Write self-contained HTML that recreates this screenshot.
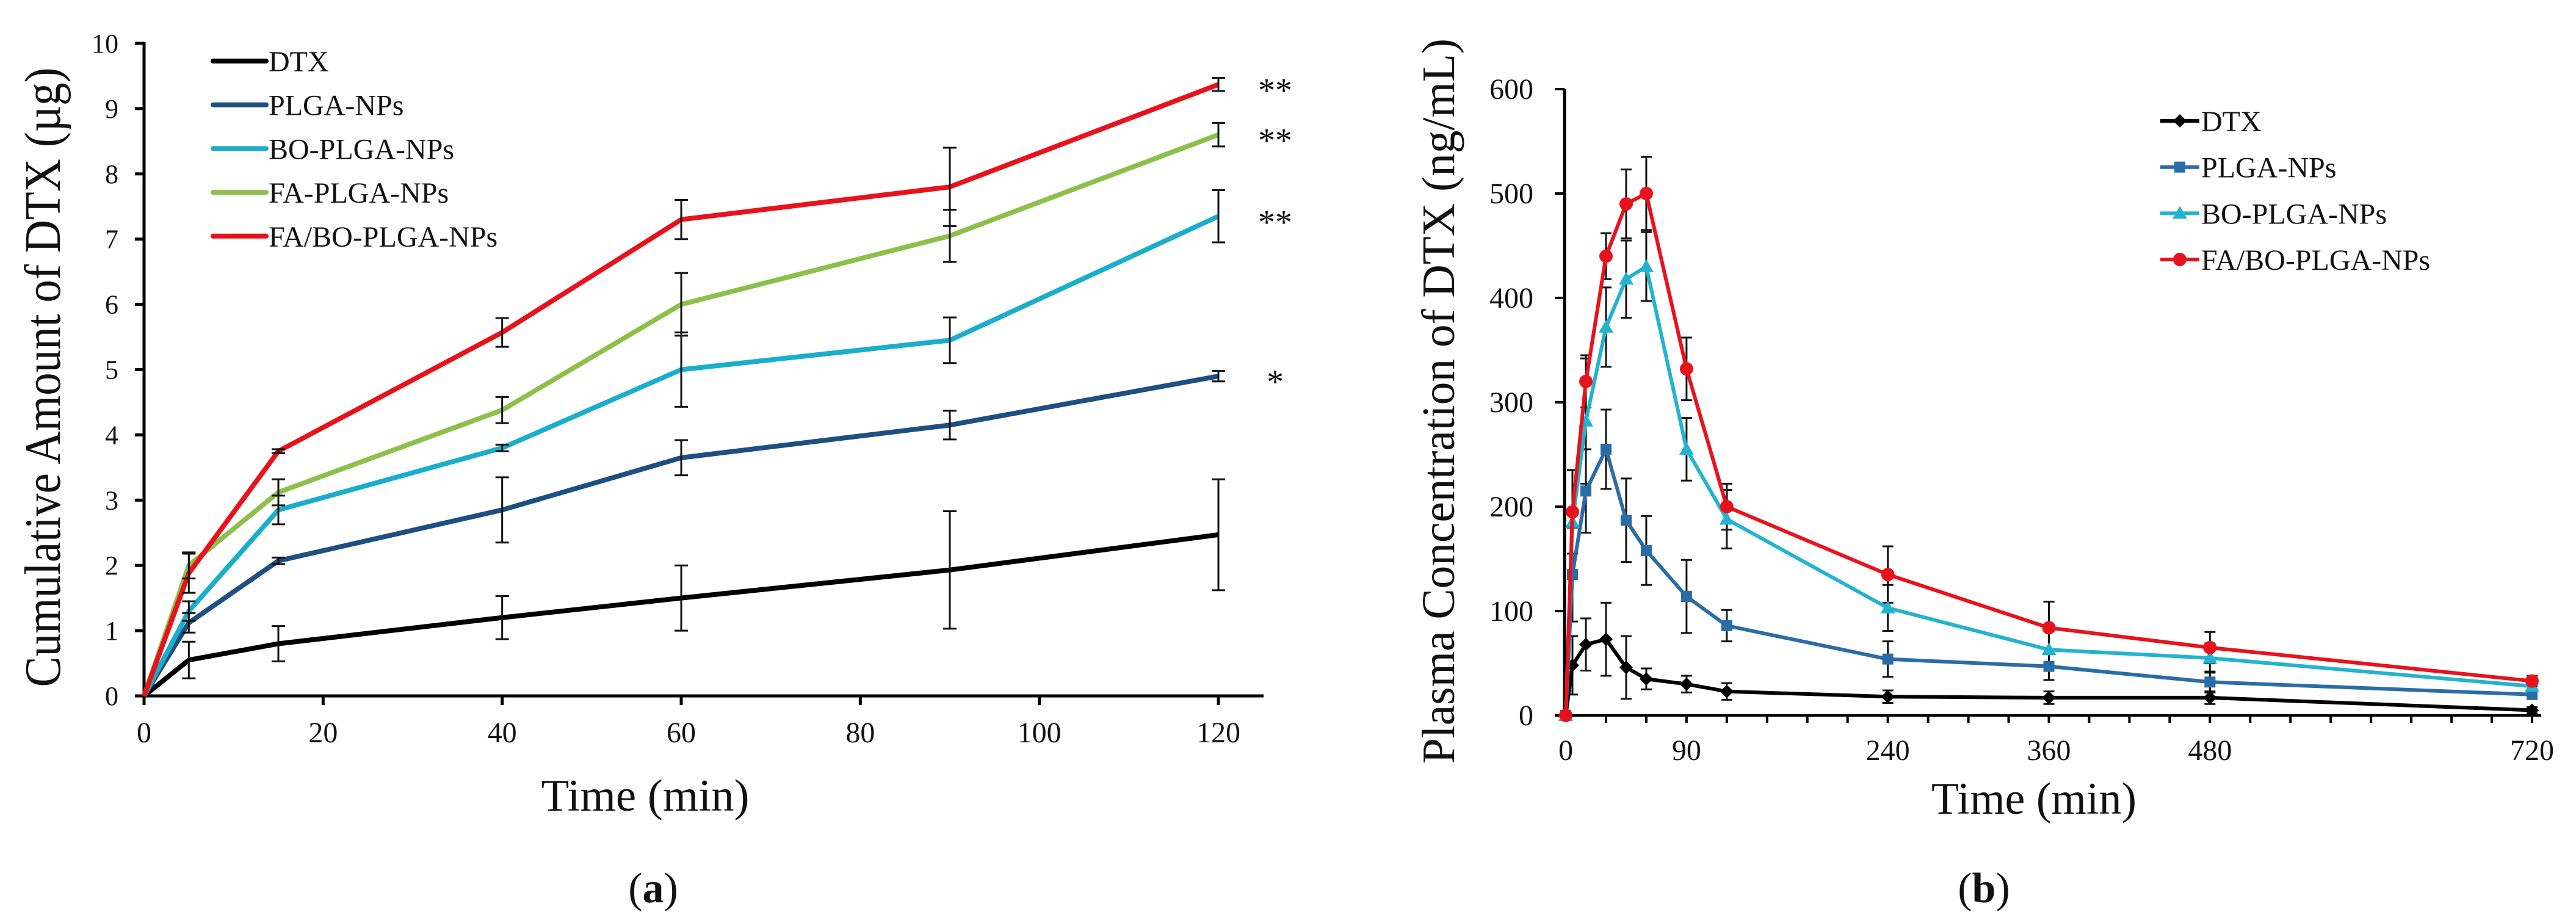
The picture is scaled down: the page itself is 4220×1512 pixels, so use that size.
<!DOCTYPE html>
<html><head><meta charset="utf-8"><style>
html,body{margin:0;padding:0;background:#fff;}
svg{display:block;}
text{font-family:"Liberation Serif",serif;fill:#111;}
</style></head><body>
<svg id="fig" width="4220" height="1512" viewBox="0 0 4220 1512" xmlns="http://www.w3.org/2000/svg">
<g id="chartA"></g>
<g id="chartB"></g>
</svg>
<script>
// ---------- Chart A data ----------
const aTimes = [0, 5, 15, 40, 60, 90, 120];
const aXTicks = [0, 20, 40, 60, 80, 100, 120];
const aYTicks = [0, 1, 2, 3, 4, 5, 6, 7, 8, 9, 10];
const aNames = ["DTX", "PLGA-NPs", "BO-PLGA-NPs", "FA-PLGA-NPs", "FA/BO-PLGA-NPs"];
const aDTX = [0, 0.55, 0.8, 1.2, 1.5, 1.93, 2.47];
const aDTXErr = [0, 0.28, 0.27, 0.33, 0.5, 0.9, 0.85];
const aPLGA = [0, 1.12, 2.07, 2.85, 3.65, 4.15, 4.9];
const aPLGAErr = [0, 0.15, 0.05, 0.5, 0.27, 0.22, 0.08];
const aBO = [0, 1.3, 2.85, 3.8, 5.0, 5.45, 7.35];
const aBOErr = [0, 0.15, 0.22, 0.05, 0.57, 0.35, 0.4];
const aFA = [0, 2.0, 3.12, 4.38, 6.0, 7.05, 8.6];
const aFAErr = [0, 0.2, 0.2, 0.2, 0.48, 0.4, 0.18];
const aFABO = [0, 1.88, 3.75, 5.57, 7.3, 7.8, 9.37];
const aFABOErr = [0, 0.3, 0.03, 0.22, 0.3, 0.6, 0.1];
const aStars = ["**", "**", "**", "*"];
const aStarVals = [9.37, 8.6, 7.35, 4.9];
// ---------- Chart B data ----------
const bTimes = [0, 5, 15, 30, 45, 60, 90, 120, 240, 360, 480, 720];
const bXTickLabels = [0, 90, 240, 360, 480, 720];
const bYTicks = [0, 100, 200, 300, 400, 500, 600];
const bNames = ["DTX", "PLGA-NPs", "BO-PLGA-NPs", "FA/BO-PLGA-NPs"];
const bDTX = [0, 48, 68, 73, 46, 35, 30, 23, 18, 17, 17, 5];
const bDTXErr = [0, 28, 25, 35, 30, 10, 8, 8, 6, 6, 6, 3];
const bPLGA = [0, 135, 215, 255, 187, 158, 114, 86, 54, 47, 32, 20];
const bPLGAErr = [0, 45, 40, 38, 40, 33, 35, 15, 17, 13, 10, 4];
const bBO = [0, 185, 282, 372, 418, 430, 255, 188, 103, 63, 55, 28];
const bBOErr = [0, 50, 60, 38, 37, 33, 30, 28, 22, 18, 14, 4];
const bFABO = [0, 195, 320, 440, 490, 500, 332, 200, 135, 84, 65, 33];
const bFABOErr = [0, 40, 25, 22, 33, 35, 30, 22, 27, 25, 15, 5];

const NS = "http://www.w3.org/2000/svg";
function mk(parent, tag, attrs, txt) {
  const e = document.createElementNS(NS, tag);
  for (const k in attrs) e.setAttribute(k, attrs[k]);
  if (txt !== undefined) e.textContent = txt;
  parent.appendChild(e);
  return e;
}

// ================= Chart A =================
(function () {
  const g = document.getElementById("chartA");
  const x0 = 236, x1 = 1996, y0 = 1140, y10 = 71;
  const X = t => x0 + (t - 0) / 120 * (x1 - x0);
  const Y = v => y0 - v / 10 * (y0 - y10);
  const colors = ["#000000", "#1d4f80", "#1aaecc", "#8dc04a", "#e8121c"];
  const series = [aDTX, aPLGA, aBO, aFA, aFABO];
  const errs = [aDTXErr, aPLGAErr, aBOErr, aFAErr, aFABOErr];

  let e = mk(g, "line", {x1: x0, y1: Y(10) - 2, x2: x0, y2: y0 + 14, stroke: "#000", "stroke-width": 5});
  
  
  e = mk(g, "line", {x1: x0 - 14, y1: y0, x2: 2070, y2: y0, stroke: "#000", "stroke-width": 5});
  
  
  aYTicks.forEach(v => {
    mk(g, "line", {x1: x0 - 15, y1: Y(v), x2: x0, y2: Y(v), stroke: "#000", "stroke-width": 5});
    const t = mk(g, "text", {x: 194, y: Y(v) + 15, "text-anchor": "end", "font-size": 44}, String(v));
    
    
  });
  aXTicks.forEach(v => {
    mk(g, "line", {x1: X(v), y1: y0, x2: X(v), y2: y0 + 15, stroke: "#000", "stroke-width": 5});
    const t = mk(g, "text", {x: X(v), y: 1216, "text-anchor": "middle", "font-size": 48}, String(v));
    
    
  });
  let t = mk(g, "text", {x: 1057, y: 1328, "text-anchor": "middle", "font-size": 74, textLength: 341, lengthAdjust: "spacingAndGlyphs"}, "Time (min)");
  
  
  t = mk(g, "text", {x: 0, y: 0, "text-anchor": "middle", "font-size": 84, textLength: 1015, lengthAdjust: "spacingAndGlyphs", transform: "translate(98,618) rotate(-90)"}, "Cumulative Amount of DTX (µg)");
  
  
  t = mk(g, "text", {x: 1070, y: 1478, "text-anchor": "middle", "font-size": 70}, "");
  
  
  mk(t, "tspan", {}, "(");
  mk(t, "tspan", {"font-weight": "bold"}, "a");
  mk(t, "tspan", {}, ")");

  series.forEach((s, i) => {
    const pts = s.map((v, j) => X(aTimes[j]) + "," + Y(v)).join(" ");
    const pl = mk(g, "polyline", {points: pts, fill: "none", stroke: colors[i], "stroke-width": 8, "stroke-linejoin": "round"});
    
    
  });
  series.forEach((s, i) => {
    s.forEach((v, j) => {
      const er = errs[i][j];
      if (!er) return;
      const x = X(aTimes[j]);
      const eg = mk(g, "g", {stroke: "#111", "stroke-width": 3});
      
      
      mk(eg, "line", {x1: x, y1: Y(v - er), x2: x, y2: Y(v + er)});
      mk(eg, "line", {x1: x - 11, y1: Y(v - er), x2: x + 11, y2: Y(v - er)});
      mk(eg, "line", {x1: x - 11, y1: Y(v + er), x2: x + 11, y2: Y(v + er)});
    });
  });
  aStars.forEach((s, i) => {
    const st = mk(g, "text", {x: 2089, y: Y(aStarVals[i]) + 28, "text-anchor": "middle", "font-size": 56}, s);
    
    
  });
  const lg = mk(g, "g", {});
  
  
  aNames.forEach((n, i) => {
    const y = 100 + i * 71.7;
    const en = mk(lg, "g", {});
    
    
    mk(en, "line", {x1: 349, y1: y, x2: 436, y2: y, stroke: colors[i], "stroke-width": 8, "stroke-linecap": "round"});
    mk(en, "text", {x: 440, y: y + 17, "font-size": 48}, n);
  });
})();

// ================= Chart B =================
(function () {
  const g = document.getElementById("chartB");
  const x0 = 2565, y0 = 1172, y600 = 146;
  const pxPerMin = (4148 - 2565) / 720;
  const X = t => x0 + t * pxPerMin;
  const Y = v => y0 - v / 600 * (y0 - y600);
  const colors = ["#000000", "#2a6ca6", "#22b3cf", "#e8121c"];
  const series = [bDTX, bPLGA, bBO, bFABO];
  const errs = [bDTXErr, bPLGAErr, bBOErr, bFABOErr];

  let e = mk(g, "line", {x1: 2563, y1: y600, x2: 2563, y2: y0 + 2, stroke: "#000", "stroke-width": 5});
  
  
  e = mk(g, "line", {x1: 2547, y1: y0, x2: 4163, y2: y0, stroke: "#000", "stroke-width": 4});
  
  
  bYTicks.forEach(v => {
    mk(g, "line", {x1: 2547, y1: Y(v), x2: 2563, y2: Y(v), stroke: "#000", "stroke-width": 4});
    const t = mk(g, "text", {x: 2512, y: Y(v) + 16, "text-anchor": "end", "font-size": 48}, String(v));
    
    
  });
  for (let m = 30; m <= 720; m += 30) {
    mk(g, "line", {x1: X(m), y1: y0, x2: X(m), y2: y0 + 12, stroke: "#000", "stroke-width": 4});
  }
  bXTickLabels.forEach(v => {
    const t = mk(g, "text", {x: X(v), y: 1245, "text-anchor": "middle", "font-size": 48}, String(v));
    
    
  });
  let t = mk(g, "text", {x: 3332, y: 1333, "text-anchor": "middle", "font-size": 74, textLength: 336, lengthAdjust: "spacingAndGlyphs"}, "Time (min)");
  
  
  t = mk(g, "text", {x: 0, y: 0, "text-anchor": "middle", "font-size": 76, textLength: 1188, lengthAdjust: "spacingAndGlyphs", transform: "translate(2382,657) rotate(-90)"}, "Plasma  Concentration of DTX (ng/mL)");
  
  
  t = mk(g, "text", {x: 3250, y: 1478, "text-anchor": "middle", "font-size": 70}, "");
  
  
  mk(t, "tspan", {}, "(");
  mk(t, "tspan", {"font-weight": "bold"}, "b");
  mk(t, "tspan", {}, ")");

  function marker(parent, kind, x, y, c) {
    let m;
    if (kind === 0) m = mk(parent, "polygon", {points: `${x},${y-11} ${x+11},${y} ${x},${y+11} ${x-11},${y}`, fill: c});
    else if (kind === 1) m = mk(parent, "rect", {x: x - 9, y: y - 9, width: 18, height: 18, fill: c});
    else if (kind === 2) m = mk(parent, "polygon", {points: `${x},${y-12} ${x+12},${y+9} ${x-12},${y+9}`, fill: c});
    else m = mk(parent, "circle", {cx: x, cy: y, r: 11, fill: c});
    return m;
  }
  series.forEach((s, i) => {
    s.forEach((v, j) => {
      const er = errs[i][j];
      if (!er) return;
      const x = X(bTimes[j]);
      const eg = mk(g, "g", {stroke: "#111", "stroke-width": 3});
      
      
      mk(eg, "line", {x1: x, y1: Y(v - er), x2: x, y2: Y(v + er)});
      mk(eg, "line", {x1: x - 9, y1: Y(v - er), x2: x + 9, y2: Y(v - er)});
      mk(eg, "line", {x1: x - 9, y1: Y(v + er), x2: x + 9, y2: Y(v + er)});
    });
  });
  series.forEach((s, i) => {
    const sg = mk(g, "g", {});
    
    
    const pts = s.map((v, j) => X(bTimes[j]) + "," + Y(v)).join(" ");
    mk(sg, "polyline", {points: pts, fill: "none", stroke: colors[i], "stroke-width": 6, "stroke-linejoin": "round"});
    s.forEach((v, j) => {
      const m = marker(sg, i, X(bTimes[j]), Y(v), colors[i]);
      
      
    });
  });
  const lg = mk(g, "g", {});
  
  
  bNames.forEach((n, i) => {
    const y = 198 + i * 75.7;
    const en = mk(lg, "g", {});
    
    
    mk(en, "line", {x1: 3539, y1: y, x2: 3603, y2: y, stroke: colors[i], "stroke-width": 6});
    marker(en, i, 3571, y, colors[i]);
    mk(en, "text", {x: 3606, y: y + 17, "font-size": 48}, n);
  });
})();
</script>
</body></html>
